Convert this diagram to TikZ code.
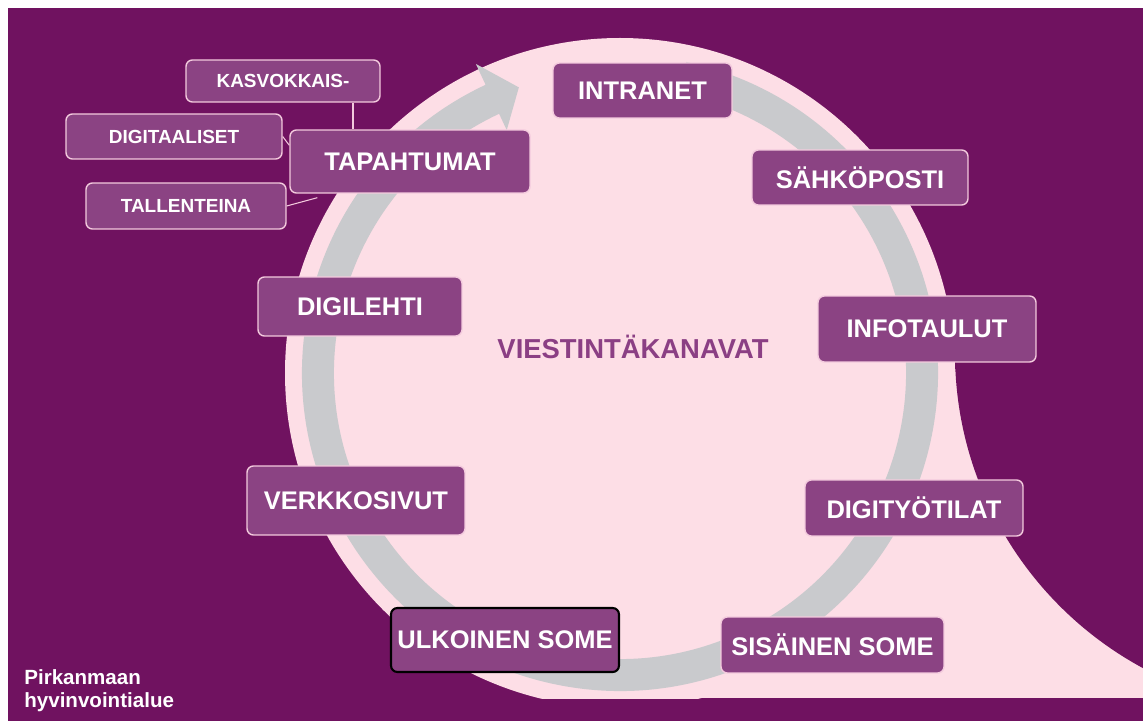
\documentclass[tikz,border=0pt]{standalone}
\usepackage{fontspec}
\setmainfont{Liberation Sans}
\usepackage{xcolor}

\definecolor{taustalila}{HTML}{701260}
\definecolor{vaaleapinkki}{HTML}{FDDEE6}
\definecolor{rengasharmaa}{HTML}{C9CACD}
\definecolor{laatikkolila}{HTML}{8B4383}
\definecolor{reunapinkki}{HTML}{F3CADD}
\definecolor{otsikkolila}{HTML}{8B3F84}

\tikzset{
  kanava/.style={draw=reunapinkki, line width=0.8pt, fill=laatikkolila, rounded corners=3.6pt,
    text=white, inner sep=0pt, font=\fontsize{14.5}{17}\selectfont\bfseries},
  pikku/.style={kanava, font=\fontsize{10.8}{13}\selectfont\bfseries},
  yhteys/.style={draw=reunapinkki, line width=0.6pt}
}

\begin{document}
\begin{tikzpicture}[x=0.02cm, y=0.02cm]
\useasboundingbox (0,0) rectangle (1143,721);
\fill[white] (0,0) rectangle (1143,721);
\fill[taustalila] (8,0) rectangle (1143,713);

% vaalea ympyra ja hanta
\begin{scope}
\clip (8,23) rectangle (1143,713);
\fill[vaaleapinkki] (620,348) circle[radius=335];
\fill[vaaleapinkki] (620,23) rectangle (1143,352);
\fill[taustalila] (1313,368) circle[radius=358];
\end{scope}

% harmaa kiertonuoli
\fill[rengasharmaa, shift={(620,348)}] (78:318) arc[start angle=78, end angle=-245, radius=318]
  -- (-245:341) -- (-250.5:303) -- (-245:268) -- (-245:286)
  arc[start angle=-245, end angle=78, radius=286] -- cycle;

\node[text=otsikkolila, font=\fontsize{15.6}{18}\selectfont\bfseries] (otsikko) at (633,374) {VIESTINTÄKANAVAT};

\node[kanava, minimum width=3.58cm, minimum height=1.1cm] (intranet) at (642.5,630.5) {INTRANET};
\node[kanava, minimum width=4.32cm, minimum height=1.1cm] (sahkoposti) at (860,543.5) {SÄHKÖPOSTI};
\node[kanava, minimum width=4.36cm, minimum height=1.32cm] (infotaulut) at (927,392) {INFOTAULUT};
\node[kanava, minimum width=4.36cm, minimum height=1.12cm] (digityotilat) at (914,213) {DIGITYÖTILAT};
\node[kanava, minimum width=4.46cm, minimum height=1.12cm] (sisainen) at (832.5,76) {SISÄINEN SOME};
\node[kanava, draw=black, line width=1.2pt, minimum width=4.56cm, minimum height=1.28cm] (ulkoinen) at (505,81) {ULKOINEN SOME};
\node[kanava, minimum width=4.36cm, minimum height=1.38cm] (verkkosivut) at (356,220.5) {VERKKOSIVUT};
\node[kanava, minimum width=4.08cm, minimum height=1.18cm] (digilehti) at (360,414.5) {DIGILEHTI};
\node[kanava, minimum width=4.8cm, minimum height=1.26cm] (tapahtumat) at (410,559.5) {TAPAHTUMAT};

\node[pikku, minimum width=3.88cm, minimum height=0.84cm] (kasvokkais) at (283,640) {KASVOKKAIS-};
\node[pikku, minimum width=4.32cm, minimum height=0.9cm] (digitaaliset) at (174,584.5) {DIGITAALISET};
\node[pikku, minimum width=4.0cm, minimum height=0.92cm] (tallenteina) at (186,515) {TALLENTEINA};

\coordinate (k1) at ([xshift=1.4cm]kasvokkais.south);
\draw[yhteys] (k1) -- (k1 |- tapahtumat.north);
\draw[yhteys] (digitaaliset.east) -- ([yshift=-0.32cm]tapahtumat.north west);
\draw[yhteys] (tallenteina.east) -- ([xshift=0.56cm, yshift=-0.08cm]tapahtumat.south west);

\node[anchor=north west, inner sep=0pt, align=left, text=white,
  font=\fontsize{11.7}{13}\selectfont\bfseries] (logo) at (24,52) {Pirkanmaan\\hyvinvointialue};
\end{tikzpicture}
\end{document}
